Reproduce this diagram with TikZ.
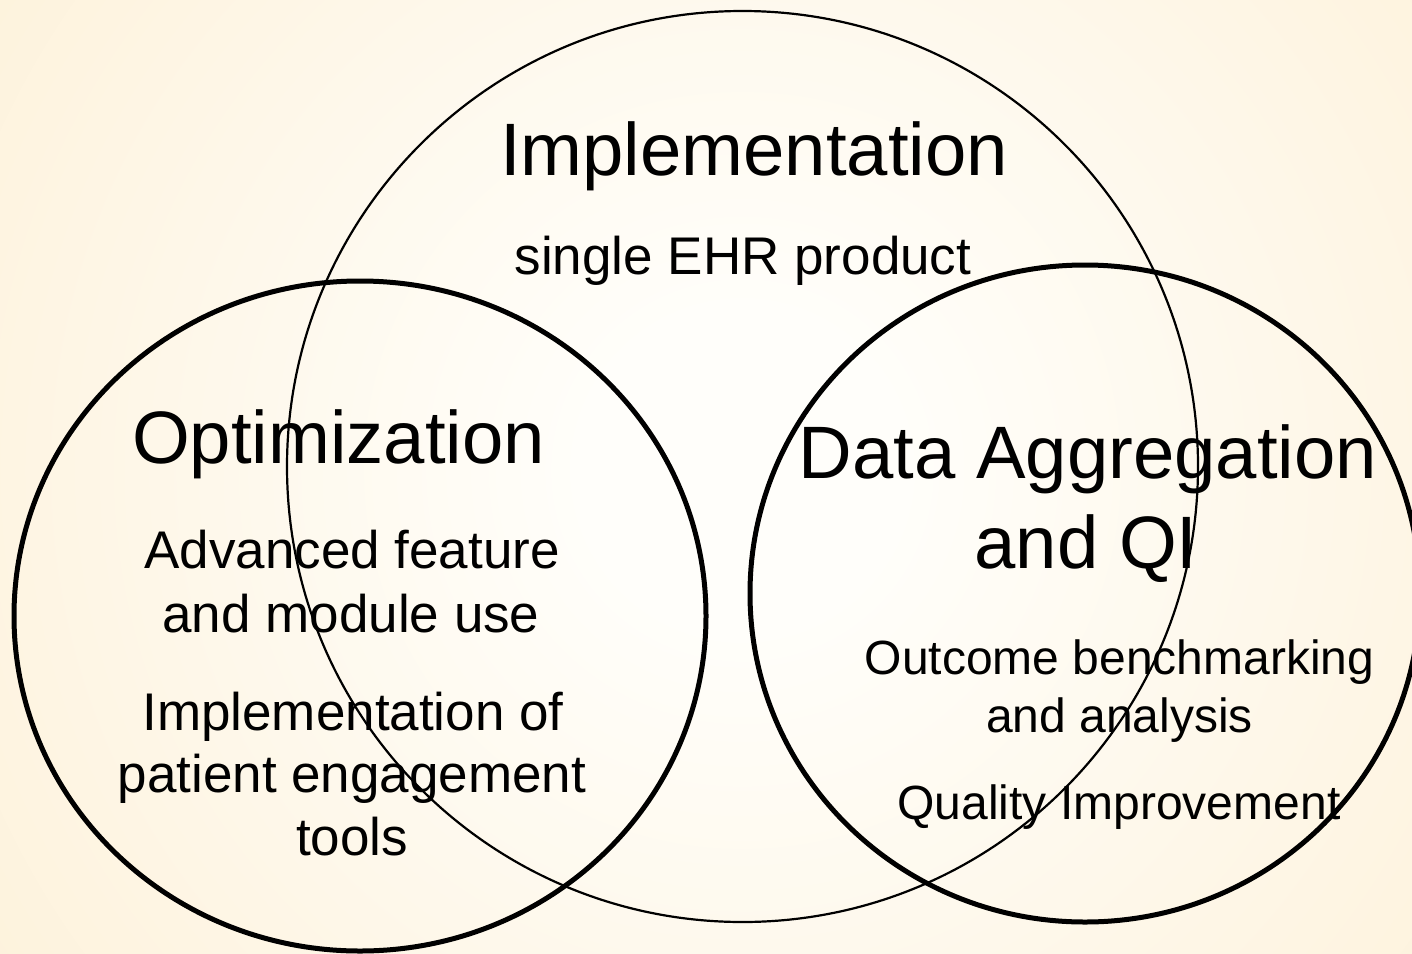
\documentclass[tikz,border=0pt]{standalone}
\usepackage{fontspec}
\setmainfont{Liberation Sans}
\usetikzlibrary{shapes.geometric}
\definecolor{bgin}{RGB}{255,254,250}
\definecolor{bgout}{RGB}{252,233,197}
\pgfdeclareradialshading{bgshade}{\pgfpoint{0bp}{0bp}}{color(0bp)=(bgin); color(5bp)=(bgin); color(46bp)=(bgout); color(72bp)=(bgout)}
\tikzset{
  ring/.style={draw=black, line width=5pt},
  bigring/.style={draw=black, line width=2.2pt},
  title/.style={anchor=base, inner sep=0pt, font=\fontsize{74.3}{89}\selectfont},
  body/.style={anchor=base, inner sep=0pt, font=\fontsize{53}{64}\selectfont},
  small/.style={anchor=base, inner sep=0pt, font=\fontsize{48}{58}\selectfont},
}
\begin{document}
\begin{tikzpicture}[x=1pt, y=-1pt]
\useasboundingbox (0,0) rectangle (1412,953);
\begin{scope}
\clip (0,0) rectangle (1412,953);
\shade[shading=bgshade] (742-800,470-800) rectangle (742+800,470+800);
\end{scope}
% circles
\node[bigring, ellipse, minimum width=911pt, minimum height=911pt, inner sep=0pt, outer sep=0pt] (impl) at (742.5,466.5) {};
\node[ring, ellipse, minimum width=692pt, minimum height=670pt, inner sep=0pt, outer sep=0pt] (opt) at (360,616) {};
\node[ring, ellipse, minimum width=670pt, minimum height=657pt, inner sep=0pt, outer sep=0pt] (data) at (1085,593.5) {};
% texts
\node[title] (t1) at (754,175) {Implementation};
\node[body] (t1a) at (743,274) {single EHR product};
\node[title] (t2) at (338.5,463) {Optimization};
\node[body] (t2a) at (352,568) {Advanced feature};
\node[body] (t2b) at (351,632) {and module use};
\node[body] (t2c) at (353,730) {Implementation of};
\node[body] (t2d) at (352,792) {patient engagement};
\node[body] (t2e) at (352,855) {tools};
\node[title] (t3) at (1088,478) {Data Aggregation};
\node[title] (t3b) at (1086,568) {and QI};
\node[small] (t3c) at (1119.5,674) {Outcome benchmarking};
\node[small] (t3d) at (1119.5,732) {and analysis};
\node[small] (t3e) at (1119,819) {Quality Improvement};
\end{tikzpicture}
\end{document}
